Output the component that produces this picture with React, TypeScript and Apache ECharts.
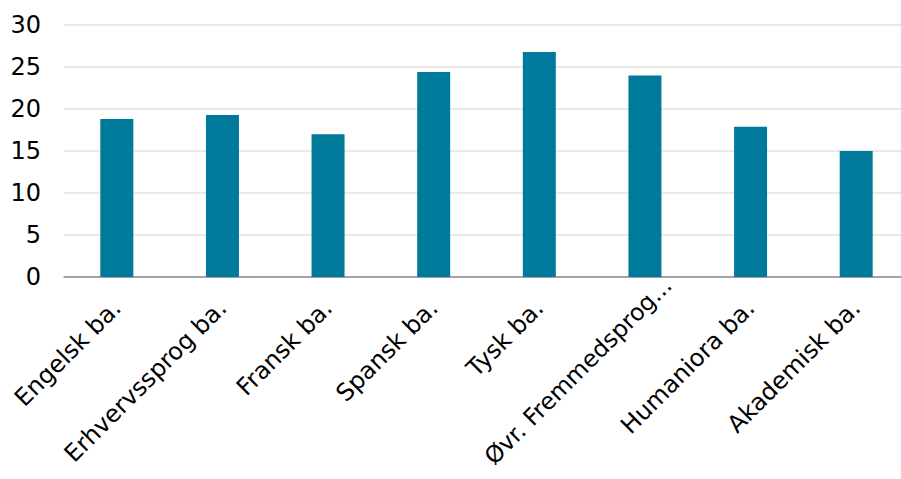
import React, { useEffect, useRef } from "react";
import * as echarts from "echarts";

const categories = [
  "Engelsk ba.",
  "Erhvervssprog ba.",
  "Fransk ba.",
  "Spansk ba.",
  "Tysk ba.",
  "Øvr. Fremmedsprog...",
  "Humaniora ba.",
  "Akademisk ba.",
];
const values = [18.8, 19.3, 17.0, 24.4, 26.8, 24.0, 17.9, 15.0];
const yMin = 0;
const yMax = 30;
const yInterval = 5;

export default function App() {
  const ref = useRef<HTMLDivElement>(null);
  useEffect(() => {
    document.body.style.margin = "0";
    if (!ref.current) return;
    const chart = echarts.init(ref.current, undefined, { renderer: "svg" });
    const catData = categories.map((c) =>
      c.startsWith("Øvr")
        ? { value: c, textStyle: { padding: [0, -32, 0, 0], fontSize: 23.5 } }
        : c
    );
    chart.setOption({
      animation: false,
      textStyle: { fontFamily: "DejaVu Sans" },
      grid: {
        left: 64,
        width: 845,
        top: 25,
        height: 252,
        containLabel: false,
        outerBoundsMode: "none",
      },
      xAxis: {
        type: "category",
        data: catData,
        axisLine: { show: true, lineStyle: { color: "#8c8c8c", width: 1.5 } },
        axisTick: { show: false },
        axisLabel: {
          rotate: 45,
          interval: 0,
          margin: 27,
          fontSize: 24,
          color: "#000",
          fontFamily: "DejaVu Sans",
        },
      },
      yAxis: {
        type: "value",
        min: yMin,
        max: yMax,
        interval: yInterval,
        axisLine: { show: false },
        axisTick: { show: false },
        splitLine: { lineStyle: { color: "#e2e2e2", width: 1.5 } },
        axisLabel: {
          fontSize: 24,
          margin: 23,
          color: "#000",
          fontFamily: "DejaVu Sans",
        },
      },
      series: [
        {
          type: "bar",
          data: values,
          barWidth: 33,
          itemStyle: { color: "#007a9a" },
        },
      ],
    });
    return () => chart.dispose();
  }, []);
  return <div ref={ref} style={{ width: 901, height: 479 }} />;
}
